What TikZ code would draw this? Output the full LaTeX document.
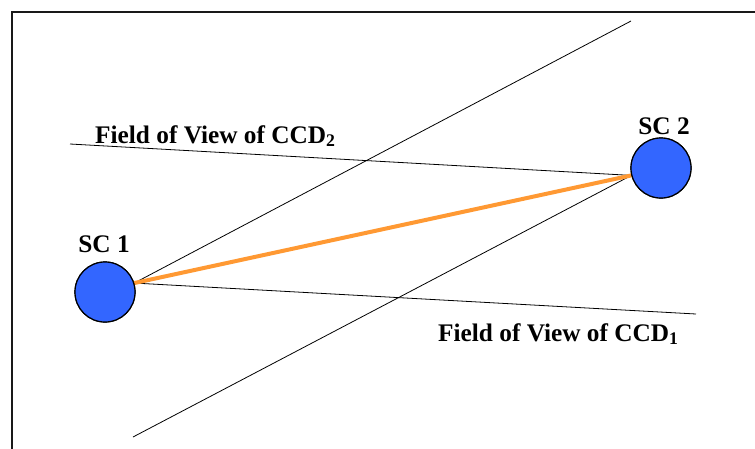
\documentclass[tikz,border=0pt]{standalone}
\usepackage{fontspec}
\setmainfont{Liberation Serif}
\definecolor{scblue}{RGB}{51,102,255}
\definecolor{linkorange}{RGB}{255,153,51}
\begin{document}
\begin{tikzpicture}[x=1pt,y=-1pt,
  craft/.style={circle,draw=black,line width=1.2pt,fill=scblue,minimum size=60pt,inner sep=0pt},
  fov/.style={draw=black,line width=0.8pt},
  lbl/.style={font=\fontsize{25.3}{28}\selectfont\bfseries,inner sep=0pt},
  link/.style={draw=linkorange,line width=4pt}]
\useasboundingbox (0,0) rectangle (755,448);
\clip (0,0) rectangle (755,448);
\draw[line width=2.6pt,black!90] (11.8,470) -- (11.8,11.8) -- (780,11.8);
% spacecraft
\node[craft] (sc1) at (105,292) {};
\node[craft] (sc2) at (661,168) {};
% free ends of the fields of view
\coordinate (f1a) at (631,21);
\coordinate (f1b) at (696,314);
\coordinate (f2a) at (70,144);
\coordinate (f2b) at (133,437);
\draw[fov] (sc1.17) -- (f1a);
\draw[fov] (sc1.17) -- (f1b);
\draw[fov] (sc2.194) -- (f2a);
\draw[fov] (sc2.194) -- (f2b);
\draw[link] (sc1.17) -- (sc2.194);
\node[craft] at (sc1) {};
\node[craft] at (sc2) {};
% labels
\node[lbl,anchor=base] (l1) at (104,252) {SC 1};
\node[lbl,anchor=base] (l2) at (664,134) {SC 2};
\node[lbl,anchor=base west] (t2) at (95,143) {Field of View of CCD\textsubscript{2}};
\node[lbl,anchor=base west] (t1) at (438,341) {Field of View of CCD\textsubscript{1}};
\end{tikzpicture}
\end{document}
